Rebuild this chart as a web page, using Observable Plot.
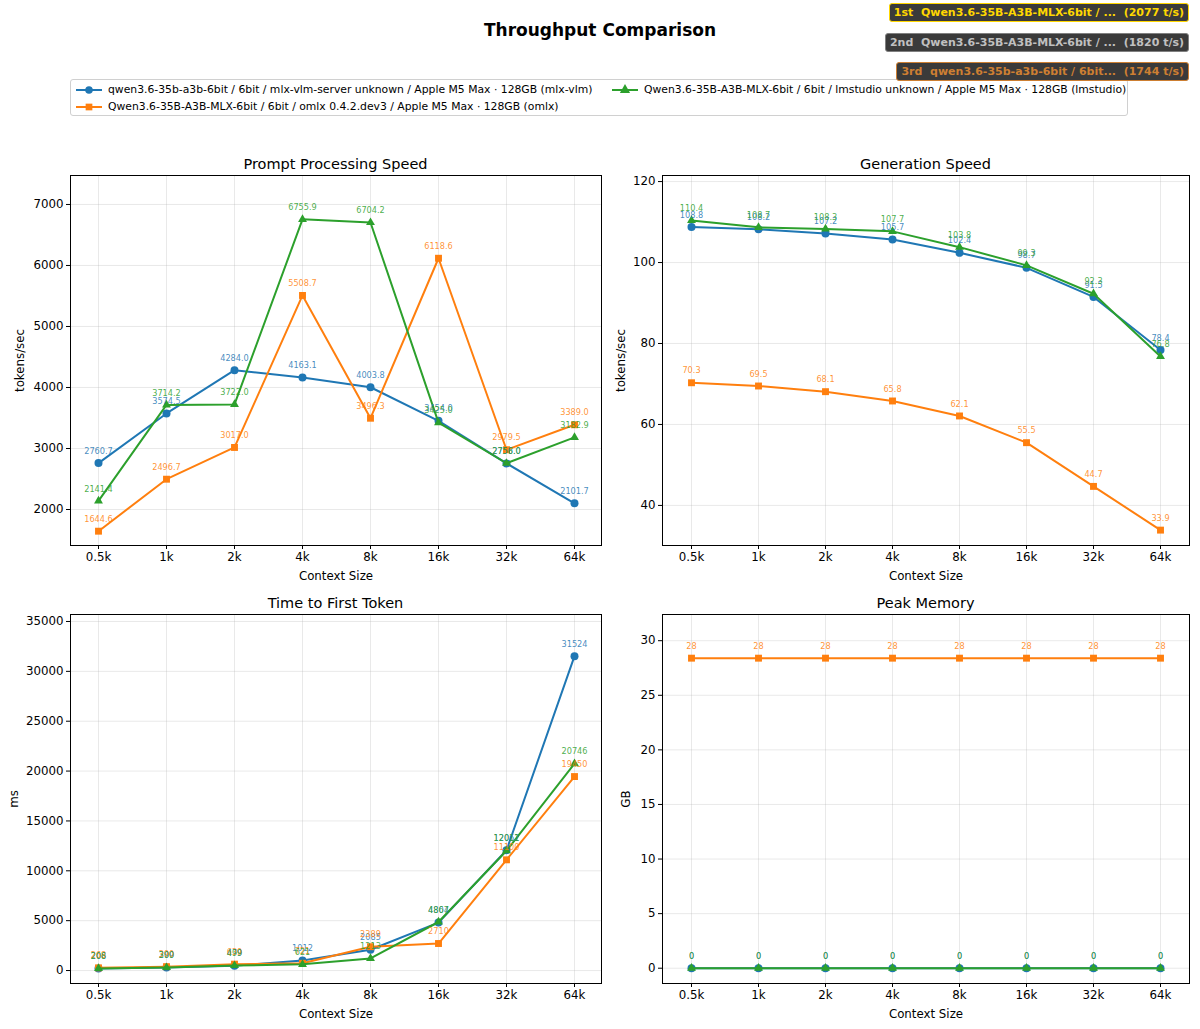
<!DOCTYPE html>
<html>
<head>
<meta charset="utf-8">
<script src="https://cdn.jsdelivr.net/npm/d3@7"></script>
<script src="https://cdn.jsdelivr.net/npm/@observablehq/plot@0.6"></script>
<style>
  html, body { margin: 0; padding: 0; background: #fff; }
  #root { position: relative; width: 1200px; height: 1029px; font-family: "DejaVu Sans", sans-serif; color: #000; overflow: hidden; }
  .abs { position: absolute; }
  .ptitle { position: absolute; font-size: 14.5px; text-align: center; line-height: 16px; }
  .badge { position: absolute; right: 11px; font-weight: bold; font-size: 11px; line-height: 15px; padding: 1px 4px 1px 4px; background: #3a3a3a; border-radius: 3px; white-space: pre; }
  #legend { position: absolute; left: 70px; top: 79px; width: 1056px; height: 35px; border: 1px solid #d0d0d0; border-radius: 3px; background: #fff; font-size: 10.8px; }
  .litem { position: absolute; display: flex; align-items: center; white-space: pre; }
  .litem svg { margin-right: 5px; }
</style>
</head>
<body>
<div id="root"></div>
<script>
// ---------- data ----------
const contexts = ["0.5k", "1k", "2k", "4k", "8k", "16k", "32k", "64k"];

const seriesNames = [
  "qwen3.6-35b-a3b-6bit / 6bit / mlx-vlm-server unknown / Apple M5 Max · 128GB (mlx-vlm)",
  "Qwen3.6-35B-A3B-MLX-6bit / 6bit / omlx 0.4.2.dev3 / Apple M5 Max · 128GB (omlx)",
  "Qwen3.6-35B-A3B-MLX-6bit / 6bit / lmstudio unknown / Apple M5 Max · 128GB (lmstudio)"
];
const seriesColors = ["#1f77b4", "#ff7f0e", "#2ca02c"];
const seriesSymbols = ["circle", "square", "triangle"];

// Prompt processing speed (tokens/sec)
const promptMlxVlm = [2760.7, 3574.5, 4284.0, 4163.1, 4003.8, 3454.0, 2756.0, 2101.7];
const promptOmlx = [1644.6, 2496.7, 3017.0, 5508.7, 3496.3, 6118.6, 2979.5, 3389.0];
const promptLmstudio = [2141.4, 3714.2, 3722.0, 6755.9, 6704.2, 3425.0, 2758.0, 3182.9];

// Generation speed (tokens/sec)
const genMlxVlm = [108.8, 108.2, 107.2, 105.7, 102.4, 98.7, 91.5, 78.4];
const genOmlx = [70.3, 69.5, 68.1, 65.8, 62.1, 55.5, 44.7, 33.9];
const genLmstudio = [110.4, 108.7, 108.3, 107.7, 103.8, 99.3, 92.3, 76.8];

// Time to first token (ms)
const ttftMlxVlm = [206, 299, 479, 1012, 2085, 4804, 12062, 31524];
const ttftOmlx = [268, 390, 639, 721, 2389, 2710, 11100, 19450];
const ttftLmstudio = [208, 300, 499, 621, 1213, 4867, 12011, 20746];

// Peak memory (GB)
const memMlxVlm = [0, 0, 0, 0, 0, 0, 0, 0];
const memOmlx = [28.4, 28.4, 28.4, 28.4, 28.4, 28.4, 28.4, 28.4];
const memLmstudio = [0, 0, 0, 0, 0, 0, 0, 0];

// ranking badges
const badgeTexts = [
  "1st  Qwen3.6-35B-A3B-MLX-6bit / ...  (2077 t/s)",
  "2nd  Qwen3.6-35B-A3B-MLX-6bit / ...  (1820 t/s)",
  "3rd  qwen3.6-35b-a3b-6bit / 6bit...  (1744 t/s)"
];
const badgeColors = ["#FFD700", "#C0C0C0", "#CD7F32"];
const badgeBorders = ["#FFD700", "#808080", "#CD7F32"];

const chartTitle = "Throughput Comparison";

// ---------- helpers ----------
function toRows(seriesValues) {
  const rows = [];
  seriesValues.forEach((vals, s) => {
    vals.forEach((v, i) => rows.push({ctx: contexts[i], value: v, series: s}));
  });
  return rows;
}

const root = document.getElementById("root");

function addDiv(cls, text, style) {
  const d = document.createElement("div");
  d.className = cls;
  d.textContent = text;
  Object.assign(d.style, style);
  root.appendChild(d);
  return d;
}

const dotR = [4, 3.9, 3.3];

function panel(cfg) {
  const rows = toRows(cfg.series);
  const marks = [
    Plot.gridX(contexts, {stroke: "#b0b0b0", strokeOpacity: 0.35, strokeWidth: 0.8}),
    Plot.gridY(cfg.ticks, {stroke: "#b0b0b0", strokeOpacity: 0.35, strokeWidth: 0.8}),
    Plot.axisX({tickSize: 4, tickPadding: 3, label: "Context Size", labelAnchor: "center", labelOffset: 34, labelArrow: "none"}),
    Plot.axisY(cfg.ticks, {tickSize: 4, tickPadding: 3, tickFormat: cfg.tickFormat, label: cfg.ylabel, labelAnchor: "center", labelOffset: cfg.labelOffset, labelArrow: "none"})
  ];
  for (let s = 0; s < 3; s++) {
    const data = rows.filter(r => r.series === s);
    marks.push(Plot.line(data, {x: "ctx", y: "value", stroke: seriesColors[s], strokeWidth: 2}));
    marks.push(Plot.dot(data, {x: "ctx", y: "value", symbol: seriesSymbols[s], fill: seriesColors[s], r: dotR[s]}));
  }
  for (let s = 0; s < 3; s++) {
    const data = rows.filter(r => r.series === s);
    marks.push(Plot.text(data, {x: "ctx", y: "value", text: d => d3.format(cfg.valueFormat)(d.value), fill: seriesColors[s], fillOpacity: 0.85, fontSize: 8.2, dy: -12}));
  }
  marks.push(Plot.frame({stroke: "#000", strokeWidth: 1}));
  const svg = Plot.plot({
    width: cfg.width,
    height: cfg.height,
    marginLeft: cfg.marginLeft,
    marginRight: cfg.marginRight,
    marginTop: cfg.marginTop,
    marginBottom: cfg.marginBottom,
    style: {fontFamily: "DejaVu Sans, sans-serif", fontSize: "11.8px", color: "#000", background: "transparent", overflow: "visible"},
    x: {type: "point", domain: contexts, padding: 0.38},
    y: {domain: cfg.domain},
    marks
  });
  svg.style.position = "absolute";
  svg.style.left = cfg.left + "px";
  svg.style.top = cfg.top + "px";
  root.appendChild(svg);
  addDiv("ptitle", cfg.title, {left: (cfg.left + cfg.marginLeft) + "px", width: (cfg.width - cfg.marginLeft - cfg.marginRight) + "px", top: (cfg.top + cfg.marginTop - 19) + "px"});
}

// ---------- title ----------
addDiv("abs", chartTitle, {left: "0px", width: "1200px", top: "20px", textAlign: "center", fontSize: "17px", fontWeight: "bold", lineHeight: "20px"});

// ---------- legend ----------
const legend = document.createElement("div");
legend.id = "legend";
root.appendChild(legend);
const legendPos = [[4, 3], [4, 20], [540, 3]];
seriesNames.forEach((name, s) => {
  const item = document.createElement("div");
  item.className = "litem";
  item.style.left = legendPos[s][0] + "px";
  item.style.top = legendPos[s][1] + "px";
  const ns = "http://www.w3.org/2000/svg";
  const sw = document.createElementNS(ns, "svg");
  sw.setAttribute("width", "28");
  sw.setAttribute("height", "12");
  const ln = document.createElementNS(ns, "line");
  ln.setAttribute("x1", "1"); ln.setAttribute("x2", "27"); ln.setAttribute("y1", "6"); ln.setAttribute("y2", "6");
  ln.setAttribute("stroke", seriesColors[s]); ln.setAttribute("stroke-width", "2");
  sw.appendChild(ln);
  const mk = document.createElementNS(ns, "path");
  mk.setAttribute("d", d3.symbol(s === 0 ? d3.symbolCircle : s === 1 ? d3.symbolSquare : d3.symbolTriangle, 45)());
  mk.setAttribute("transform", "translate(14,6)");
  mk.setAttribute("fill", seriesColors[s]);
  sw.appendChild(mk);
  item.appendChild(sw);
  const t = document.createElement("span");
  t.textContent = name;
  item.appendChild(t);
  legend.appendChild(item);
});

// ---------- badges ----------
const badgeTops = [3, 33, 62];
badgeTexts.forEach((txt, i) => {
  addDiv("badge", txt, {top: badgeTops[i] + "px", color: badgeColors[i], border: "1px solid " + badgeBorders[i]});
});

// ---------- panels ----------
panel({
  title: "Prompt Processing Speed", ylabel: "tokens/sec",
  series: [promptMlxVlm, promptOmlx, promptLmstudio],
  domain: [1410, 7475], ticks: [2000, 3000, 4000, 5000, 6000, 7000], tickFormat: "d", valueFormat: ".1f",
  left: 0, top: 150, width: 610, height: 445, marginLeft: 70, marginRight: 9, marginTop: 25, marginBottom: 50, labelOffset: 55
});
panel({
  title: "Generation Speed", ylabel: "tokens/sec",
  series: [genMlxVlm, genOmlx, genLmstudio],
  domain: [30.1, 121.5], ticks: [40, 60, 80, 100, 120], tickFormat: "d", valueFormat: ".1f",
  left: 600, top: 150, width: 600, height: 445, marginLeft: 62, marginRight: 11, marginTop: 25, marginBottom: 50, labelOffset: 46
});
panel({
  title: "Time to First Token", ylabel: "ms",
  series: [ttftMlxVlm, ttftOmlx, ttftLmstudio],
  domain: [-1300, 35700], ticks: [0, 5000, 10000, 15000, 20000, 25000, 30000, 35000], tickFormat: "d", valueFormat: ".0f",
  left: 0, top: 589, width: 610, height: 445, marginLeft: 70, marginRight: 9, marginTop: 25, marginBottom: 51, labelOffset: 61
});
panel({
  title: "Peak Memory", ylabel: "GB",
  series: [memMlxVlm, memOmlx, memLmstudio],
  domain: [-1.4, 32.4], ticks: [0, 5, 10, 15, 20, 25, 30], tickFormat: "d", valueFormat: ".0f",
  left: 600, top: 589, width: 600, height: 445, marginLeft: 62, marginRight: 11, marginTop: 25, marginBottom: 51, labelOffset: 41
});
</script>
</body>
</html>
